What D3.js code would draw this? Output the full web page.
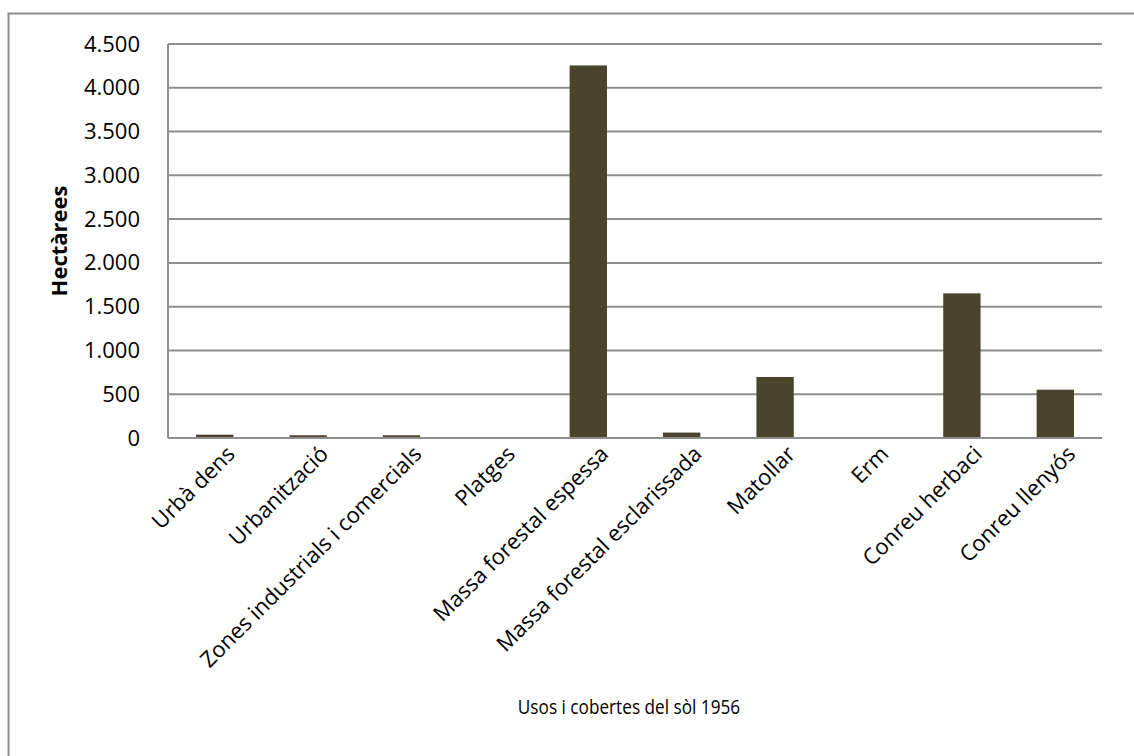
<!DOCTYPE html>
<html>
<head>
<meta charset="utf-8">
<script src="https://cdn.jsdelivr.net/npm/d3@7"></script>
<style>
  html, body { margin: 0; padding: 0; background: #fff; }
  svg { display: block; font-family: "Open Sans", "Liberation Sans", sans-serif; }
</style>
</head>
<body>
<svg id="chart" width="1134" height="756"></svg>
<script>
// Land use and cover, 1956 (hectares)
const categories = [
  "Urbà dens",
  "Urbanització",
  "Zones industrials i comercials",
  "Platges",
  "Massa forestal espessa",
  "Massa forestal esclarissada",
  "Matollar",
  "Erm",
  "Conreu herbaci",
  "Conreu llenyós"
];
const hectares = [38, 31, 31, 0, 4255, 62, 697, 0, 1652, 552];
const yTicks = [0, 500, 1000, 1500, 2000, 2500, 3000, 3500, 4000, 4500];
const yTitle = "Hectàrees";
const xTitle = "Usos i cobertes del sòl 1956";

const svg = d3.select("#chart");
const W = 1134, H = 756;
const plot = { left: 168, right: 1102, top: 44, bottom: 438 };

// outer chart frame
svg.append("rect")
  .attr("x", 8.5).attr("y", 13.5)
  .attr("width", W).attr("height", H)
  .attr("fill", "none").attr("stroke", "#8c8c8c").attr("stroke-width", 2);

const x = d3.scaleBand()
  .domain(categories)
  .range([plot.left, plot.right])
  .paddingInner(0.6)
  .paddingOuter(0.3);

const y = d3.scaleLinear()
  .domain([0, 4500])
  .range([plot.bottom, plot.top]);

// horizontal gridlines
svg.append("g")
  .selectAll("line")
  .data(yTicks.filter(d => d > 0))
  .join("line")
  .attr("x1", plot.left).attr("x2", plot.right)
  .attr("y1", d => y(d)).attr("y2", d => y(d))
  .attr("stroke", "#8e8e8e").attr("stroke-width", 2);

// y axis labels
const fmt = d3.formatLocale({ decimal: ",", thousands: ".", grouping: [3], currency: ["", " €"] }).format(",d");
const yAxis = svg.append("g")
  .attr("transform", `translate(${plot.left},0)`)
  .call(d3.axisLeft(y).tickValues(yTicks).tickFormat(fmt).tickSize(0).tickPadding(28));
yAxis.select(".domain").remove();
yAxis.selectAll("text")
  .attr("font-size", 22).attr("fill", "#000")
  .attr("font-family", "'Open Sans', sans-serif");

// bars
svg.append("g")
  .selectAll("rect")
  .data(categories.map((c, i) => ({ c, v: hectares[i] })))
  .join("rect")
  .attr("x", d => x(d.c))
  .attr("width", x.bandwidth())
  .attr("y", d => y(d.v))
  .attr("height", d => y(0) - y(d.v))
  .attr("fill", "#4a442d");

// axis lines
svg.append("line")
  .attr("x1", plot.left).attr("x2", plot.left)
  .attr("y1", plot.top).attr("y2", plot.bottom)
  .attr("stroke", "#8e8e8e").attr("stroke-width", 2);
svg.append("line")
  .attr("x1", plot.left).attr("x2", plot.right)
  .attr("y1", plot.bottom).attr("y2", plot.bottom)
  .attr("stroke", "#8e8e8e").attr("stroke-width", 2);

// rotated category labels
svg.append("g")
  .selectAll("text")
  .data(categories)
  .join("text")
  .attr("transform", d => `translate(${x(d) + x.bandwidth() / 2 + 16},${plot.bottom + 12}) rotate(-45)`)
  .attr("text-anchor", "end")
  .attr("dy", "0.35em")
  .attr("font-size", 22)
  .attr("fill", "#000")
  .text(d => d);

// axis titles
svg.append("text")
  .attr("transform", `translate(67,${(plot.top + plot.bottom) / 2}) rotate(-90)`)
  .attr("text-anchor", "middle")
  .attr("font-size", 22)
  .attr("font-weight", "bold")
  .text(yTitle);

// x title, slightly condensed
svg.append("text")
  .attr("transform", `translate(${(plot.left + plot.right) / 2 - 6},714) scale(0.86,1)`)
  .attr("text-anchor", "middle")
  .attr("font-size", 20)
  .text(xTitle);
</script>
</body>
</html>
